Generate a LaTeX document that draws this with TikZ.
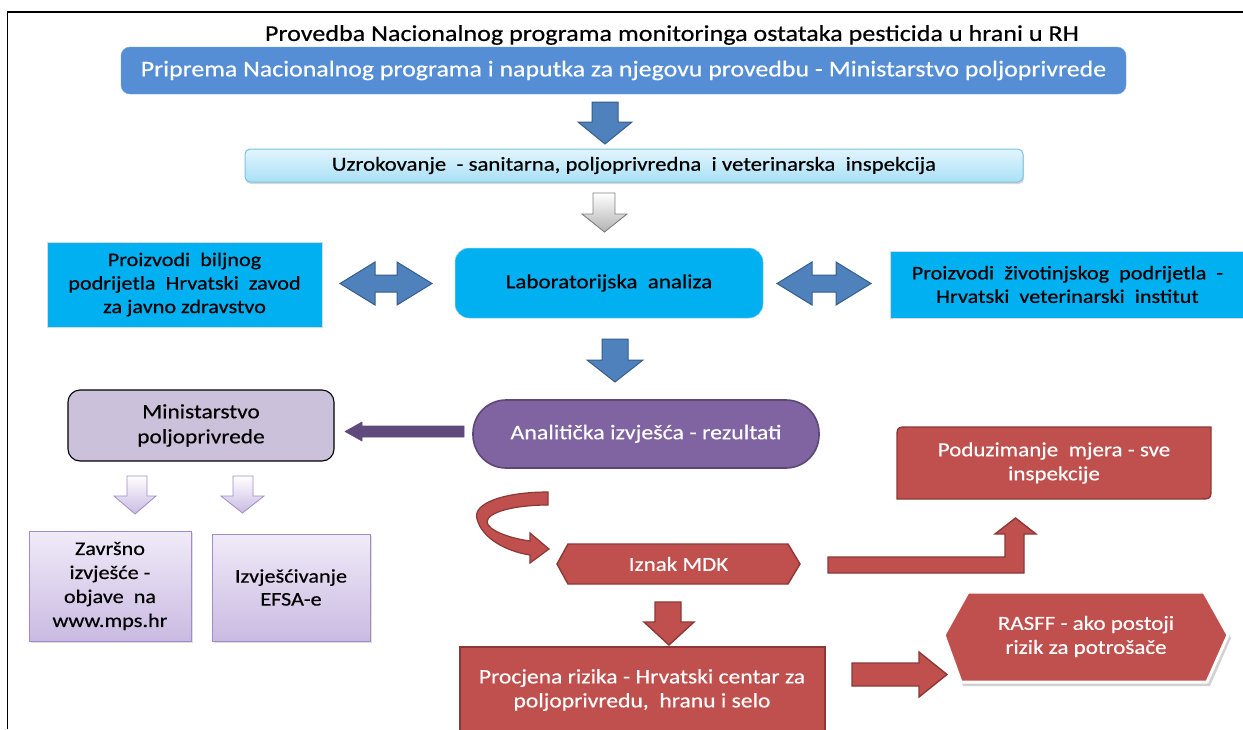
\documentclass[tikz,border=0pt]{standalone}
\usepackage{fontspec}
\setmainfont{Carlito}[FakeStretch=1.15,FakeBold=0.4]
\usetikzlibrary{shadows}
\definecolor{topblue}{HTML}{558ED5}
\definecolor{arrblue}{HTML}{4F81BD}
\definecolor{arrblueb}{HTML}{385D8A}
\definecolor{cyanbox}{HTML}{00B0F0}
\definecolor{uztop}{HTML}{E2F5FD}
\definecolor{uzbot}{HTML}{A9E0F6}
\definecolor{uzline}{HTML}{7CC3DE}
\definecolor{lavfill}{HTML}{CCC1DA}
\definecolor{purp}{HTML}{8064A2}
\definecolor{purpb}{HTML}{5C4776}
\definecolor{purpdark}{HTML}{604A7B}
\definecolor{lavtop}{HTML}{F0EBF8}
\definecolor{lavbot}{HTML}{CABAE2}
\definecolor{lavline}{HTML}{A28CC6}
\definecolor{redf}{HTML}{C0504D}
\definecolor{redb}{HTML}{8C3836}
\newcommand\myfs[2]{\fontsize{#1}{#2}\selectfont}
\begin{document}
\begin{tikzpicture}[x=1pt,y=-1pt,
  every node/.style={inner sep=0pt, align=center},
  cyanrect/.style={fill=cyanbox, draw=black!15, line width=0.6pt},
  blockblue/.style={fill=arrblue, draw=arrblueb, line width=1pt, line join=miter},
  blockred/.style={fill=redf, draw=redb, line width=1.4pt},
  lavarrow/.style={top color=white, bottom color=lavbot, draw=lavline, line width=0.8pt},
  lavbox/.style={top color=lavtop, bottom color=lavbot, draw=lavline, line width=0.8pt,
     drop shadow={shadow xshift=1.5pt, shadow yshift=-1.5pt, opacity=0.25}},
  redtext/.style={text=white, font=\myfs{20}{24}},
  blacktext/.style={text=black, font=\myfs{19.3}{23.5}}
]
\useasboundingbox (0,0) rectangle (1243,729);
\clip (0,0) rectangle (1243,729);
\fill[white] (0,0) rectangle (1243,729);
% frame
\draw[line width=1.6pt] (1243,12) -- (7.5,12) -- (7.5,729);

% title
\node (title) at (672,35) {\myfs{22.7}{24}Provedba Nacionalnog programa monitoringa ostataka pesticida u hrani u RH};

% top box
\node (top) [fill=topblue, draw=topblue!85!white, rounded corners=9pt, minimum width=1005pt, minimum height=47pt,
  text=white, font=\myfs{22.5}{26}] at (623.5,70.5) {Priprema Nacionalnog programa i naputka za njegovu provedbu - Ministarstvo poljoprivrede};

% arrow 1
\draw[blockblue] (592,102) -- (618,102) -- (618,122) -- (632,122) -- (605,144) -- (578,122) -- (592,122) -- cycle;

% uzorkovanje
\node (uz) [top color=uztop, bottom color=uzbot, draw=uzline, line width=1pt, rounded corners=5pt,
  minimum width=778pt, minimum height=33pt, font=\myfs{19.8}{22},
  drop shadow={shadow xshift=1pt, shadow yshift=-2pt, opacity=0.3}] at (634,165.5)
  {Uzrokovanje\ \ - sanitarna, poljoprivredna\ \ i veterinarska\ \ inspekcija};

% arrow 2 (gray)
\draw[top color=white, bottom color=black!30, draw=black!50, line width=0.9pt]
  (593,193) -- (615,193) -- (615,214) -- (627,214) -- (604.5,232) -- (582,214) -- (593,214) -- cycle;

% row of three
\node (bil) [cyanrect, minimum width=275pt, minimum height=85pt, blacktext] at (184.5,284.5)
  {Proizvodi\ \ biljnog\\podrijetla\ \ Hrvatski\ \ zavod\\za javno zdravstvo};
\node (lab) [fill=cyanbox, draw=cyanbox!80!black!40, line width=0.5pt, rounded corners=14pt,
  minimum width=308pt, minimum height=70pt, blacktext, font=\myfs{20}{23}] at (609,283)
  {Laboratorijska\ \ analiza};
\node (ziv) [cyanrect, minimum width=355pt, minimum height=67pt, blacktext] at (1067.5,284.5)
  {Proizvodi\ \ životinjskog\ \ podrijetla\ \ -\\Hrvatski\ \ veterinarski\ \ institut};

% double arrows
\draw[blockblue] (340,283.5) -- (375,262) -- (375,275) -- (397,275) -- (397,262) -- (432,283.5)
  -- (397,305) -- (397,292) -- (375,292) -- (375,305) -- cycle;
\draw[blockblue] (777,283.5) -- (812,262) -- (812,275) -- (836,275) -- (836,262) -- (871,283.5)
  -- (836,305) -- (836,292) -- (812,292) -- (812,305) -- cycle;

% arrow 3
\draw[blockblue] (602,339) -- (628,339) -- (628,360) -- (643,360) -- (615,382) -- (587,360) -- (602,360) -- cycle;

% Ministarstvo
\node (min) [fill=lavfill, draw=black, line width=1.1pt, rounded corners=12pt,
  minimum width=266pt, minimum height=71pt, blacktext, font=\myfs{20.3}{25}] at (201,425.5)
  {Ministarstvo\\poljoprivrede};

% Analiticka
\node (ana) [fill=purp, draw=purpb, line width=1.6pt, rounded corners=33pt,
  minimum width=346pt, minimum height=68pt, redtext, font=\myfs{20.8}{24}] at (646,434)
  {\raisebox{4pt}{Analitička izvješća - rezultati}};

% purple arrow
\draw[fill=purpdark, draw=purpdark, line width=0.6pt, line join=round]
  (464,426) -- (362,426) -- (362,422) -- (345,431.5) -- (362,441) -- (362,437) -- (464,437) -- cycle;

% lavender arrows
\draw[lavarrow] (127,476) -- (147,476) -- (147,496) -- (156,496) -- (135,514) -- (114,496) -- (127,496) -- cycle;
\draw[lavarrow] (233,476) -- (253,476) -- (253,496) -- (264,496) -- (242.5,513) -- (221,496) -- (233,496) -- cycle;

% lavender boxes
\node (zav) [lavbox, minimum width=162pt, minimum height=110pt, blacktext, font=\myfs{19.3}{24}] at (110,586)
  {Završno\\izvješće -\\objave\ \ na\\www.mps.hr};
\node (izv) [lavbox, minimum width=158pt, minimum height=107pt, blacktext, font=\myfs{19.3}{23}] at (291,587.5)
  {Izvješćivanje\\EFSA-e};

% curved red arrow
\draw[blockred, line width=1.2pt, line join=miter]
  (548,492) .. controls (505,492) and (472,503) .. (477,519)
  .. controls (482,538) and (505,551) .. (530,555)
  -- (530,563) -- (549,549) -- (530,533) -- (530,541)
  .. controls (508,538) and (488,530) .. (487,522)
  .. controls (487,512) and (515,505) .. (548,505) -- cycle;

% Iznak MDK
\draw[blockred] (557,564) -- (568,544) -- (788,544) -- (800,564) -- (788,584) -- (568,584) -- cycle;
\node (mdk) [redtext, minimum width=243pt, minimum height=40pt] at (678.5,564) {Iznak MDK};

% Poduzimanje
\draw[blockred] (897,499) -- (897,439) .. controls (897,427) .. (909,427) -- (1211,427)
  -- (1211,487) .. controls (1211,499) .. (1199,499) -- cycle;
\node (pod) [redtext, minimum width=314pt, minimum height=72pt] at (1054,463)
  {Poduzimanje\ \ mjera - sve\\inspekcije};

% L arrow
\draw[blockred, line join=miter] (828,557) -- (1005,557) -- (1005,534) -- (995,534) -- (1015.5,518)
  -- (1036,534) -- (1024,534) -- (1024,573) -- (828,573) -- cycle;

% red down arrow
\draw[blockred, line join=miter] (655,602) -- (681,602) -- (681,622) -- (694,622) -- (669,645)
  -- (644,622) -- (655,622) -- cycle;

% Procjena
\draw[blockred] (460,647) rectangle (825,760);
\node (proc) [redtext, minimum width=365pt, minimum height=86pt, font=\myfs{20.5}{24}] at (642,690)
  {Procjena rizika - Hrvatski centar za\\poljoprivredu,\ \ hranu i selo};

% red right arrow
\draw[blockred, line join=miter] (852,663) -- (919,663) -- (919,652) -- (947,674.5) -- (919,697)
  -- (919,686) -- (852,686) -- cycle;

% RASFF
\path[fill=black, opacity=0.18] (946,638) -- (970,595) -- (1207,595) -- (1231,638) -- (1210,686) -- (963,686) -- cycle;
\draw[fill=redf, draw=white, line width=3pt, line join=round]
  (944,635) -- (968,592) -- (1204,592) -- (1228,635) -- (1207,682) -- (961,682) -- cycle;
\node (ras) [redtext, minimum width=284pt, minimum height=90pt] at (1086,636.5)
  {RASFF - ako postoji\\rizik za potrošače};
\end{tikzpicture}
\end{document}
